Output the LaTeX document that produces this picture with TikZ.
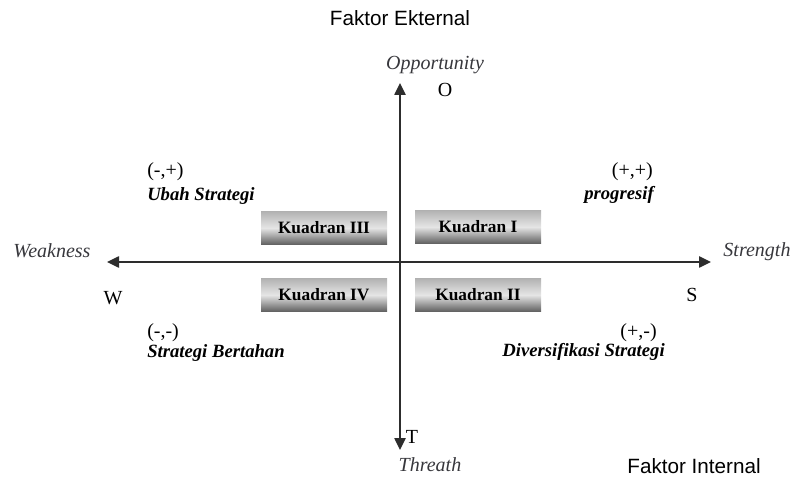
\documentclass[tikz,border=0pt]{standalone}
\usepackage{fontspec}
\setmainfont{Liberation Serif}
\newfontfamily\arialfont{Liberation Sans}
\usepackage{tikz}
\usetikzlibrary{arrows.meta,positioning}
\definecolor{AxisC}{RGB}{45,45,45}
\definecolor{DirC}{RGB}{55,55,60}
\tikzset{
  axisln/.style={-{Triangle[length=9pt,width=8.5pt]},line width=1.1pt,AxisC},
  kbox/.style={minimum width=94.5pt,minimum height=24.5pt,inner sep=0pt,
               top color=black!30,bottom color=black!62,middle color=black!10,
               font=\fontsize{13}{15}\selectfont\bfseries},
  dirlbl/.style={inner sep=0pt,font=\fontsize{15}{18}\selectfont\itshape,text=DirC},
  pole/.style={inner sep=0pt,font=\fontsize{15}{18}\selectfont},
  strat/.style={inner sep=0pt,font=\fontsize{14}{17}\selectfont\bfseries\itshape},
  faktor/.style={inner sep=0pt,font=\arialfont\fontsize{15.5}{18}\selectfont},
}

\begin{document}
\begin{tikzpicture}[x=0.75pt,y=-0.75pt]
  \useasboundingbox (0,0) rectangle (793,477);
  % sumbu
  \coordinate (mid) at (400,262);
  \coordinate (oTip) at (400,83);
  \coordinate (tTip) at (400,450);
  \coordinate (wTip) at (107,262);
  \coordinate (sTip) at (711,262);
  \draw[axisln] (mid) -- (oTip);
  \draw[axisln] (mid) -- (tTip);
  \draw[axisln] (mid) -- (wTip);
  \draw[axisln] (mid) -- (sTip);
  % faktor
  \node[faktor] (fEks) at (400,18) {Faktor Ekternal};
  \node[faktor] (fInt) at (694,466) {Faktor Internal};
  % arah
  \node[dirlbl] (opp) at (435,65) {Opportunity};
  \node[pole]   (pO)  at (445,90) {O};
  \node[pole]   (pT)  at (412,437) {T};
  \node[dirlbl] (thr) at (430,465) {Threath};
  \node[dirlbl] (weak) at (52,251) {Weakness};
  \node[pole]   (pW)  at (113,298) {W};
  \node[dirlbl] (str) at (757,252) {Strength};
  \node[pole]   (pS)  at (692,295) {S};
  % kuadran
  \node[kbox] (k3) at (324,228) {Kuadran III};
  \node[kbox] (k1) at (478,227) {Kuadran I};
  \node[kbox] (k4) at (324,295) {Kuadran IV};
  \node[kbox] (k2) at (478,295) {Kuadran II};
  % strategi
  \node[pole,anchor=west]  (sg3) at (147,172) {(-,+)};
  \node[strat,anchor=west] (st3) at (147,196) {Ubah Strategi};
  \node[pole,anchor=east]  (sg1) at (653,172) {(+,+)};
  \node[strat,anchor=east] (st1) at (654,195) {progresif};
  \node[pole,anchor=west]  (sg4) at (147,333) {(-,-)};
  \node[strat,anchor=west] (st4) at (147,353) {Strategi Bertahan};
  \node[pole,anchor=east]  (sg2) at (657,333) {(+,-)};
  \node[strat,anchor=east] (st2) at (665,352) {Diversifikasi Strategi};
\end{tikzpicture}
\end{document}
